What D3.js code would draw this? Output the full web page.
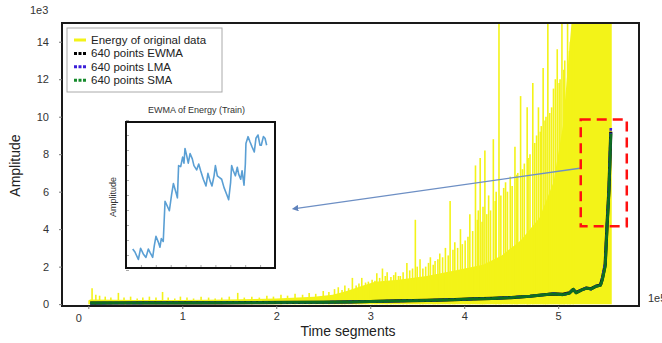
<!DOCTYPE html>
<html>
<head>
<meta charset="utf-8">
<script src="https://cdn.jsdelivr.net/npm/d3@7"></script>
<style>
  body { margin: 0; background: #fff; }
  text { font-family: 'Liberation Sans', Arial, sans-serif; fill: #333; }
</style>
</head>
<body>
<svg id="chart" width="662" height="343"></svg>
<script>
// axis ticks (x in 1e5 segments, y in 1e3 amplitude)
const xTicks = [0, 1, 2, 3, 4, 5];
const yTicks = [0, 2, 4, 6, 8, 10, 12, 14];

const legendLabels = ['Energy of original data', '640 points EWMA', '640 points LMA', '640 points SMA'];

// solid part of the raw energy signal (upper edge of the dense band)
const floorX = [0.0, 0.02, 0.5, 1.0, 1.5, 2.0, 2.4, 2.6, 2.75, 2.9, 3.05, 3.3, 3.6, 3.9, 4.2, 4.4, 4.6, 4.8, 4.95, 5.05, 5.15, 5.57];
const floorY = [0.2, 0.25, 0.22, 0.22, 0.25, 0.3, 0.4, 0.5, 0.7, 0.95, 1.2, 1.3, 1.5, 1.8, 2.1, 2.6, 3.4, 4.6, 6.5, 9.5, 15.5, 15.5];

// individual energy peaks
const spikeX = [0.04, 0.08, 0.12, 0.18, 0.24, 0.32, 0.38, 0.45, 0.52, 0.58, 0.65, 0.72, 0.79, 0.85, 0.92, 0.98, 1.05, 1.12, 1.2, 1.28,
  1.35, 1.42, 1.5, 1.59, 1.66, 1.74, 1.82, 1.9, 1.97, 2.05, 2.12, 2.2, 2.28, 2.35, 2.42, 2.5, 2.56,
  2.62, 2.66, 2.70, 2.73, 2.77, 2.81, 2.85, 2.88, 2.91, 2.95, 2.98, 3.02, 3.05, 3.07, 3.10, 3.13, 3.16, 3.18, 3.22, 3.25,
  3.27, 3.30, 3.32, 3.35, 3.39, 3.42, 3.45, 3.48, 3.50, 3.53, 3.56, 3.59, 3.62, 3.64, 3.67, 3.69, 3.72, 3.74, 3.77, 3.80,
  3.83, 3.85, 3.88, 3.90, 3.93, 3.96, 3.98, 4.01, 4.04, 4.06, 4.09, 4.12, 4.14, 4.15, 4.17, 4.19, 4.20, 4.22, 4.24, 4.26,
  4.28, 4.31, 4.33, 4.34, 4.37, 4.39, 4.42, 4.44, 4.46, 4.49, 4.51, 4.54, 4.56, 4.57, 4.60, 4.62, 4.64, 4.67, 4.68, 4.70,
  4.73, 4.75, 4.77, 4.79, 4.81, 4.82, 4.84, 4.86, 4.87, 4.89, 4.91, 4.93, 4.95, 4.97, 4.99, 5.01, 5.02, 5.04, 5.06, 5.07,
  5.10, 5.12, 5.13, 5.16];
const spikeY = [0.85, 0.5, 0.45, 0.4, 0.35, 0.6, 0.35, 0.4, 0.3, 0.35, 0.4, 0.35, 0.65, 0.35, 0.3, 0.4, 0.35, 0.3, 0.4, 0.35,
  0.3, 0.35, 0.4, 0.6, 0.35, 0.4, 0.35, 0.45, 0.4, 0.5, 0.45, 0.55, 0.5, 0.6, 0.55, 0.7, 0.65,
  0.8, 0.9, 0.75, 1.0, 0.85, 1.4, 1.0, 1.1, 1.4, 1.15, 1.2, 1.3, 1.25, 1.65, 1.4, 1.9, 1.5, 1.7, 1.45, 1.55,
  1.7, 1.5, 1.5, 1.7, 2.2, 1.8, 1.9, 4.5, 2.0, 2.4, 1.9, 2.0, 2.2, 2.5, 2.1, 2.3, 2.4, 2.7, 2.5, 3.0,
  2.6, 5.5, 2.9, 3.3, 3.0, 4.0, 3.2, 3.4, 3.6, 4.8, 3.9, 7.4, 4.5, 5.0, 7.8, 4.4, 5.2, 8.2, 4.8, 5.8,
  5.0, 8.8, 5.5, 6.0, 16, 5.8, 6.2, 6.5, 6.0, 6.8, 6.3, 8.4, 6.9, 7.0, 11.1, 7.2, 7.5, 10.5, 7.8, 8.0,
  11.8, 8.6, 9.0, 10.5, 9.2, 9.5, 12.6, 9.8, 10.0, 16, 10.2, 10.5, 11.5, 12.0, 13.6, 11.8, 12, 16, 12.5, 13,
  16, 13.5, 14, 16];

// moving averages (640 points)
const smoothX = [0.02, 0.3, 0.6, 1.0, 1.4, 1.8, 2.2, 2.5, 2.8, 3.0, 3.3, 3.6, 3.9, 4.1, 4.3, 4.5, 4.7, 4.85, 4.95, 5.05,
  5.12, 5.16, 5.19, 5.25, 5.3, 5.35, 5.4, 5.45, 5.47, 5.5, 5.52, 5.54, 5.55, 5.56];
const ewmaY = [0.05, 0.06, 0.07, 0.07, 0.07, 0.08, 0.09, 0.1, 0.12, 0.14, 0.17, 0.2, 0.24, 0.28, 0.31, 0.35, 0.42, 0.5, 0.55, 0.52,
  0.6, 0.78, 0.62, 0.76, 0.86, 0.82, 0.95, 1.02, 1.35, 2.1, 4.2, 6.1, 7.6, 9.2];
const lmaY = [0.05, 0.06, 0.07, 0.07, 0.08, 0.08, 0.09, 0.1, 0.12, 0.14, 0.17, 0.2, 0.24, 0.28, 0.3, 0.36, 0.42, 0.5, 0.56, 0.5,
  0.6, 0.82, 0.6, 0.76, 0.86, 0.8, 0.96, 1.02, 1.4, 2.2, 4.3, 6.2, 7.8, 9.4];
const smaY = [0.06, 0.07, 0.07, 0.07, 0.08, 0.08, 0.09, 0.1, 0.12, 0.14, 0.17, 0.2, 0.24, 0.28, 0.3, 0.35, 0.42, 0.5, 0.55, 0.5,
  0.58, 0.8, 0.6, 0.75, 0.85, 0.8, 0.95, 1.0, 1.3, 2.0, 4.1, 6.0, 7.5, 9.1];

// inset: zoomed EWMA of the last segment (relative units)
const insetT = [4.5, 6, 8.3, 9.8, 11.6, 13.4, 15, 16.1, 17.9, 19, 20.1, 21.7, 22.8, 23.7, 25, 26.2, 27.3, 29.1, 30.6, 31.8,
  33.6, 34.5, 35.3, 36.7, 38, 38.9, 39.6, 40.7, 41.8, 43, 44.5, 45.6, 47.4, 48.8, 50.1, 51.9, 53.7, 55, 56.4, 57.7,
  59.1, 60, 61.3, 62.6, 64.2, 65.8, 67.6, 68.9, 70.2, 70.9, 72, 73.4, 74.7, 75.6, 77, 77.9, 79.2, 80.1, 80.5, 81.9,
  83.2, 84.6, 86.1, 87.2, 88.6, 89.9, 90.8, 92.2, 93.3, 94.4];
const insetV = [14, 12, 7, 14.5, 10.7, 8.4, 14, 11.8, 8.4, 16.3, 22.4, 18.6, 15.2, 20.9, 19, 45.8, 43.5, 39.5, 50.3, 57.6,
  51.5, 48.1, 69.6, 68.9, 75.3, 71.2, 81, 76.4, 71.2, 77.6, 74.1, 69.6, 66.7, 70.7, 66.2, 60.5, 56, 64.4, 59.4, 56,
  62.8, 69.6, 62.8, 61.7, 60.5, 54.9, 50.3, 46.9, 58.3, 69.6, 66.2, 62.8, 68.5, 63.9, 60.5, 66.2, 56.5, 70.7, 84.4, 88.9,
  85.5, 82.1, 78.7, 87.8, 90, 83.2, 83.2, 88.9, 87.8, 83.2];

const margin = { top: 23, right: 23, bottom: 37, left: 62 };
const width = 662, height = 343;

const svg = d3.select('#chart');

const x = d3.scaleLinear().domain([-0.28, 5.86]).range([margin.left, width - margin.right]);
const y = d3.scaleLinear().domain([-0.1, 15]).range([height - margin.bottom, margin.top]);

svg.append('defs').append('clipPath').attr('id', 'plot-clip')
  .append('rect')
  .attr('x', margin.left).attr('y', margin.top)
  .attr('width', x.range()[1] - margin.left)
  .attr('height', y.range()[0] - margin.top);

const plot = svg.append('g').attr('clip-path', 'url(#plot-clip)');

const yellow = '#f3f318';

// raw energy: dense band + peaks
const floorData = floorX.map((d, i) => [d, floorY[i]]);
plot.append('path')
  .datum(floorData)
  .attr('fill', yellow)
  .attr('d', d3.area().x(d => x(d[0])).y0(y(0)).y1(d => y(d[1])));

plot.append('g')
  .selectAll('line')
  .data(spikeX.map((d, i) => [d, spikeY[i]]))
  .join('line')
  .attr('x1', d => x(d[0])).attr('x2', d => x(d[0]))
  .attr('y1', y(0)).attr('y2', d => y(d[1]))
  .attr('stroke', yellow)
  .attr('stroke-width', 1.6);

// moving averages
const line = d3.line().x(d => x(d[0])).y(d => y(d[1]));
const series = [
  { vals: ewmaY, color: '#000000', w: 3.2, dash: null },
  { vals: lmaY, color: '#3b1fd8', w: 2.6, dash: '4,2' },
  { vals: smaY, color: '#0d6e22', w: 2.8, dash: null },
];
series.forEach(s => {
  plot.append('path')
    .datum(smoothX.map((d, i) => [d, s.vals[i]]))
    .attr('fill', 'none')
    .attr('stroke', s.color)
    .attr('stroke-width', s.w)
    .attr('stroke-dasharray', s.dash)
    .attr('stroke-linejoin', 'round')
    .attr('d', line);
});

// frame
svg.append('rect')
  .attr('x', margin.left).attr('y', margin.top)
  .attr('width', x.range()[1] - margin.left)
  .attr('height', y.range()[0] - margin.top)
  .attr('fill', 'none')
  .attr('stroke', '#1a1a1a')
  .attr('stroke-width', 2);

// axes
const xAxis = svg.append('g')
  .attr('transform', `translate(0,${y.range()[0]})`)
  .call(d3.axisBottom(x).tickValues(xTicks).tickSize(3).tickPadding(3).tickFormat(d3.format('d')));
const yAxis = svg.append('g')
  .attr('transform', `translate(${margin.left},0)`)
  .call(d3.axisLeft(y).tickValues(yTicks).tickSize(3).tickPadding(10).tickFormat(d3.format('d')));
[xAxis, yAxis].forEach(a => {
  a.select('.domain').remove();
  a.selectAll('.tick line').attr('stroke', '#777');
  a.selectAll('.tick text').attr('font-size', 11).attr('font-family', null).style('fill', '#333');
});
// the zero label sits a bit left of and below its tick in the original
xAxis.selectAll('.tick text').filter(d => d === 0).attr('dx', -10).attr('y', 8);

svg.append('text').attr('x', 30).attr('y', 14).attr('font-size', 11).text('1e3');
svg.append('text').attr('x', 648).attr('y', 302).attr('font-size', 11).text('1e5');

svg.append('text')
  .attr('x', 348).attr('y', 336)
  .attr('text-anchor', 'middle').attr('font-size', 14)
  .style('fill', '#222')
  .text('Time segments');
svg.append('text')
  .attr('transform', `translate(20,${(y(0) + y(15)) / 2 + 2}) rotate(-90)`)
  .attr('text-anchor', 'middle').attr('font-size', 14)
  .style('fill', '#222')
  .text('Amplitude');

// legend
const legend = svg.append('g').attr('transform', 'translate(67,28)');
legend.append('rect')
  .attr('width', 155).attr('height', 64)
  .attr('fill', '#fff').attr('stroke', '#aaa').attr('stroke-width', 1);
const legendStyles = [
  { color: yellow, dash: null },
  { color: '#000000', dash: '3,1.5' },
  { color: '#3b1fd8', dash: '3,1.5' },
  { color: '#168a2c', dash: '3,1.5' },
];
legendLabels.forEach((lab, i) => {
  const row = legend.append('g').attr('transform', `translate(0,${12 + i * 13.4})`);
  row.append('line')
    .attr('x1', 7).attr('x2', 19)
    .attr('stroke', legendStyles[i].color)
    .attr('stroke-width', 3)
    .attr('stroke-dasharray', legendStyles[i].dash);
  row.append('text')
    .attr('x', 24).attr('dy', '0.35em')
    .attr('font-size', 11.5)
    .style('fill', '#222')
    .text(lab);
});

// inset
const inset = { x: 126, y: 122, w: 149, h: 146 };
const ix = d3.scaleLinear().domain([0, 100]).range([inset.x, inset.x + inset.w]);
const iy = d3.scaleLinear().domain([0, 100]).range([inset.y + inset.h + 2, inset.y - 2]);
const ig = svg.append('g');
ig.append('rect')
  .attr('x', inset.x).attr('y', inset.y)
  .attr('width', inset.w).attr('height', inset.h)
  .attr('fill', '#fff');
ig.append('g')
  .attr('transform', `translate(0,${inset.y + inset.h})`)
  .call(d3.axisTop(ix).ticks(12).tickSize(3).tickFormat(''))
  .call(g => g.select('.domain').remove())
  .selectAll('line').attr('stroke', '#aaa');
ig.append('g')
  .attr('transform', `translate(${inset.x},0)`)
  .call(d3.axisRight(iy).ticks(8).tickSize(3).tickFormat(''))
  .call(g => g.select('.domain').remove())
  .selectAll('line').attr('stroke', '#aaa');
ig.append('path')
  .datum(insetT.map((d, i) => [d, insetV[i]]))
  .attr('fill', 'none')
  .attr('stroke', '#5a9fd4')
  .attr('stroke-width', 1.6)
  .attr('stroke-linejoin', 'round')
  .attr('d', d3.line().x(d => ix(d[0])).y(d => iy(d[1])));
ig.append('rect')
  .attr('x', inset.x).attr('y', inset.y)
  .attr('width', inset.w).attr('height', inset.h)
  .attr('fill', 'none').attr('stroke', '#111').attr('stroke-width', 2);
ig.append('text')
  .attr('x', inset.x + inset.w / 2 - 4).attr('y', 113)
  .attr('text-anchor', 'middle').attr('font-size', 9)
  .text('EWMA of Energy (Train)');
ig.append('text')
  .attr('transform', `translate(116,${inset.y + inset.h / 2 + 2}) rotate(-90)`)
  .attr('text-anchor', 'middle').attr('font-size', 9)
  .text('Amplitude');

// zoom marker and arrow
svg.append('defs').append('marker')
  .attr('id', 'arrow')
  .attr('viewBox', '0 0 10 10')
  .attr('refX', 5).attr('refY', 5)
  .attr('markerWidth', 5).attr('markerHeight', 5)
  .attr('orient', 'auto-start-reverse')
  .append('path').attr('d', 'M0,0L10,5L0,10z').attr('fill', '#5f82bb');
svg.append('line')
  .attr('x1', x(5.23)).attr('y1', y(7.25))
  .attr('x2', x(2.2)).attr('y2', y(5.1))
  .attr('stroke', '#6d8fc4').attr('stroke-width', 1.3)
  .attr('marker-end', 'url(#arrow)');
svg.append('rect')
  .attr('x', x(5.24)).attr('y', y(9.85))
  .attr('width', x(5.73) - x(5.24))
  .attr('height', y(4.15) - y(9.85))
  .attr('fill', 'none')
  .attr('stroke', '#ff1010')
  .attr('stroke-width', 2.5)
  .attr('stroke-dasharray', '10,6');
</script>
</body>
</html>
